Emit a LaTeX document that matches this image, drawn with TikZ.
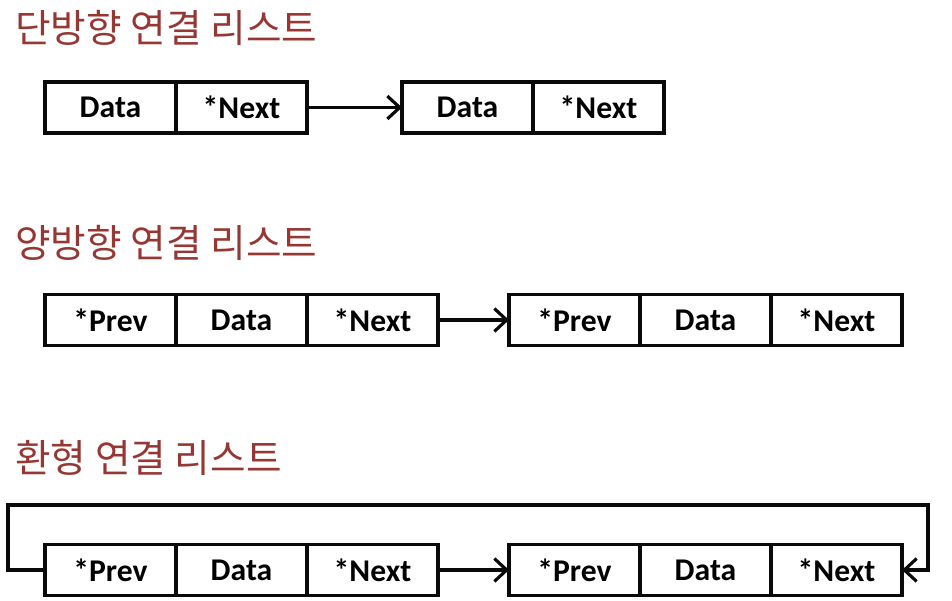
\documentclass[tikz,border=0pt]{standalone}
\usepackage{fontspec}
\setmainfont{Carlito}
\newfontfamily\kofont{Noto Sans CJK KR}
\usepackage{tikz}
\usetikzlibrary{positioning,arrows.meta}
\definecolor{TitleRed}{RGB}{150,55,52}
\definecolor{CellLine}{RGB}{10,10,10}

\begin{document}
\begin{tikzpicture}[
    cell/.style={draw=CellLine, fill=white, line width=1.8pt, minimum width=2.62cm, minimum height=1.02cm, inner sep=0pt, outer sep=0pt, font=\fontsize{18}{20}\selectfont\bfseries},
    title/.style={anchor=west, color=TitleRed, font=\kofont\fontsize{22}{24}\selectfont, inner sep=0pt},
    link/.style={draw=CellLine, line width=1.8pt, -{Straight Barb[length=7pt, width=13pt, line width=1.8pt]}}
  ]
    \useasboundingbox (0,0) rectangle (19.04,-12.02);

    % single linked list
    \node[title] (t1) at (0.3,-0.55) {단방향 연결 리스트};
    \node[cell, anchor=west] (sa1) at (0.9,-2.15) {Data};
    \node[cell, right=0pt of sa1] (sa2) {*Next};
    \node[cell, anchor=west] (sb1) at (8.04,-2.15) {Data};
    \node[cell, right=0pt of sb1] (sb2) {*Next};
    \draw[link] (sa2.east) -- (sb1.west);

    % double linked list
    \node[title] (t2) at (0.3,-4.86) {양방향 연결 리스트};
    \node[cell, anchor=west] (da1) at (0.9,-6.4) {*Prev};
    \node[cell, right=0pt of da1] (da2) {Data};
    \node[cell, right=0pt of da2] (da3) {*Next};
    \node[cell, anchor=west] (db1) at (10.18,-6.4) {*Prev};
    \node[cell, right=0pt of db1] (db2) {Data};
    \node[cell, right=0pt of db2] (db3) {*Next};
    \draw[link] (da3.east) -- (db1.west);

    % circular linked list
    \node[title] (t3) at (0.3,-9.16) {환형 연결 리스트};
    \node[cell, anchor=west] (ca1) at (0.9,-11.4) {*Prev};
    \node[cell, right=0pt of ca1] (ca2) {Data};
    \node[cell, right=0pt of ca2] (ca3) {*Next};
    \node[cell, anchor=west] (cb1) at (10.18,-11.4) {*Prev};
    \node[cell, right=0pt of cb1] (cb2) {Data};
    \node[cell, right=0pt of cb2] (cb3) {*Next};
    \draw[link] (ca3.east) -- (cb1.west);
    \coordinate (loopL) at (0.16,-10.1);
    \coordinate (loopR) at (18.56,-10.1);
    \draw[link] (ca1.west) -| (loopL) -- (loopR) |- (cb3.east);
  \end{tikzpicture}
\end{document}
